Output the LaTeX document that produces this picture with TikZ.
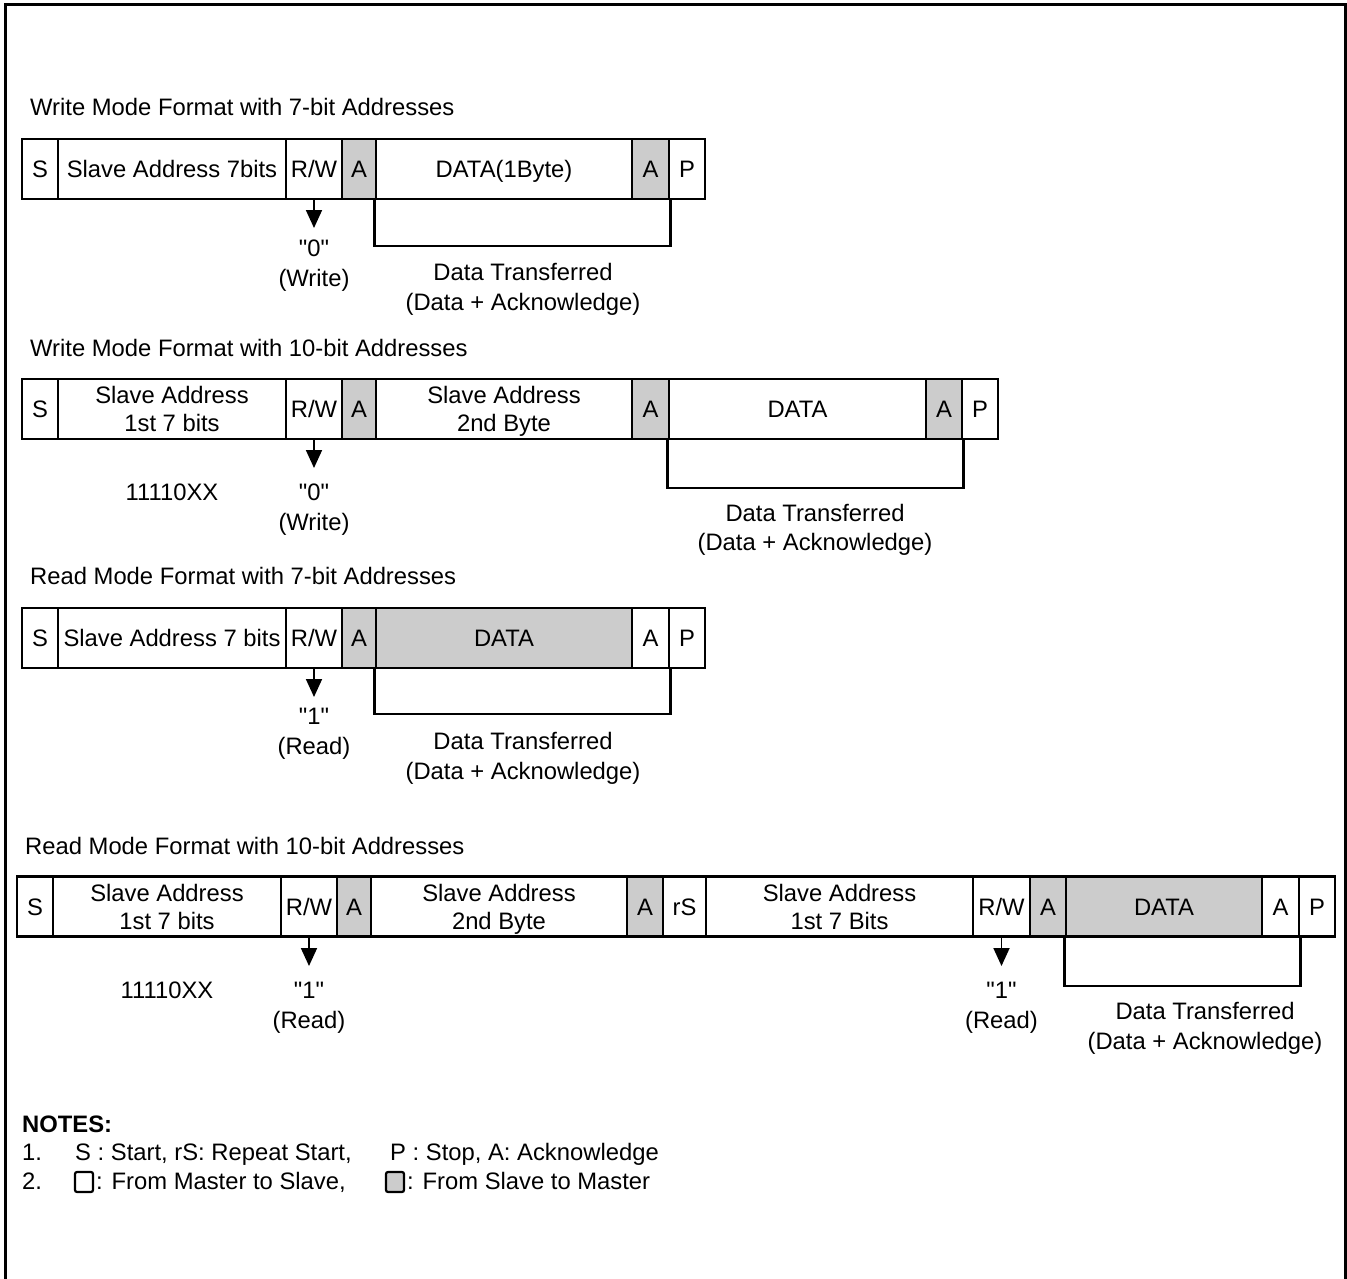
\documentclass[tikz,border=0pt]{standalone}
\usepackage{fontspec}
\setmainfont{Liberation Sans}[Ligatures=TeXOff]
\usetikzlibrary{arrows.meta}
\definecolor{cellgray}{RGB}{204,204,204}
\begin{document}
\begin{tikzpicture}[x=1pt,y=-1pt,
  every node/.style={font=\fontsize{23.8}{28}\selectfont},
  cell/.style={draw, line width=2.6pt, minimum height=60pt, inner sep=0pt, align=center, text height=17pt, text depth=0pt},
  gcell/.style={cell, fill=cellgray},
  cellii/.style={cell, text height=45pt, text depth=0pt},
  lbl/.style={inner sep=0pt, anchor=base},
  ttl/.style={inner sep=0pt, anchor=base west},
  rwarrow/.style={line width=1.8pt, -{Triangle[width=16pt,length=18pt]}},
  bracket/.style={line width=2.5pt},
  keybox/.style={draw, line width=2.2pt, minimum width=18pt, minimum height=20pt, inner sep=0pt, rounded corners=2pt},
]
\useasboundingbox (0,0) rectangle (1347,1279);
\draw[line width=3pt] (5,1279) -- (5,5) -- (1345,5) -- (1345,1279);

% ---------------- Row 1 ----------------
\node[ttl] (t1) at (30,116) {Write Mode Format with 7-bit Addresses};
\node[cell, minimum width=36pt]  (r1s)  at (40,169) {S};
\node[cell, minimum width=228pt] (r1sa) at (172,169) {Slave Address 7bits};
\node[cell, minimum width=56pt]  (r1rw) at (314,169) {R/W};
\node[gcell, minimum width=34pt] (r1a1) at (359,169) {A};
\node[cell, minimum width=256pt] (r1d)  at (504,169) {DATA(1Byte)};
\node[gcell, minimum width=37pt] (r1a2) at (650.5,169) {A};
\node[cell, minimum width=36pt]  (r1p)  at (687,169) {P};
\coordinate (r1tip) at (314,228);
\draw[rwarrow] (r1rw.south) -- (r1tip);
\node[lbl] (r1v) at (314,256) {"0"};
\node[lbl] (r1m) at (314,286) {(Write)};
\coordinate (r1bot) at (520,246);
\draw[bracket] (r1d.south west) |- (r1bot) -| (r1a2.south east);
\node[lbl] (r1dt) at (523,280) {Data Transferred};
\node[lbl] (r1da) at (523,310) {(Data + Acknowledge)};

% ---------------- Row 2 ----------------
\node[ttl] (t2) at (30,356) {Write Mode Format with 10-bit Addresses};
\node[cell, minimum width=36pt]  (r2s)  at (40,409) {S};
\node[cellii, minimum width=228pt] (r2sa) at (172,409) {Slave Address\\1st 7 bits};
\node[cell, minimum width=56pt]  (r2rw) at (314,409) {R/W};
\node[gcell, minimum width=34pt] (r2a1) at (359,409) {A};
\node[cellii, minimum width=256pt] (r2sb) at (504,409) {Slave Address\\2nd Byte};
\node[gcell, minimum width=37pt] (r2a2) at (650.5,409) {A};
\node[cell, minimum width=257pt] (r2d)  at (797.5,409) {DATA};
\node[gcell, minimum width=36pt] (r2a3) at (944,409) {A};
\node[cell, minimum width=36pt]  (r2p)  at (980,409) {P};
\coordinate (r2tip) at (314,468);
\draw[rwarrow] (r2rw.south) -- (r2tip);
\node[lbl] (r2x) at (172,500) {11110XX};
\node[lbl] (r2v) at (314,500) {"0"};
\node[lbl] (r2m) at (314,530) {(Write)};
\coordinate (r2bot) at (815,488);
\draw[bracket] (r2d.south west) |- (r2bot) -| (r2a3.south east);
\node[lbl] (r2dt) at (815,521) {Data Transferred};
\node[lbl] (r2da) at (815,550) {(Data + Acknowledge)};

% ---------------- Row 3 ----------------
\node[ttl] (t3) at (30,584) {Read Mode Format with 7-bit Addresses};
\node[cell, minimum width=36pt]  (r3s)  at (40,638) {S};
\node[cell, minimum width=228pt] (r3sa) at (172,638) {Slave Address 7 bits};
\node[cell, minimum width=56pt]  (r3rw) at (314,638) {R/W};
\node[gcell, minimum width=34pt] (r3a1) at (359,638) {A};
\node[gcell, minimum width=256pt] (r3d) at (504,638) {DATA};
\node[cell, minimum width=37pt]  (r3a2) at (650.5,638) {A};
\node[cell, minimum width=36pt]  (r3p)  at (687,638) {P};
\coordinate (r3tip) at (314,697);
\draw[rwarrow] (r3rw.south) -- (r3tip);
\node[lbl] (r3v) at (314,724) {"1"};
\node[lbl] (r3m) at (314,754) {(Read)};
\coordinate (r3bot) at (520,714);
\draw[bracket] (r3d.south west) |- (r3bot) -| (r3a2.south east);
\node[lbl] (r3dt) at (523,749) {Data Transferred};
\node[lbl] (r3da) at (523,779) {(Data + Acknowledge)};

% ---------------- Row 4 ----------------
\node[ttl] (t4) at (25,854) {Read Mode Format with 10-bit Addresses};
\node[cell, minimum width=36pt]  (r4s)   at (35,906.5) {S};
\node[cellii, minimum width=228pt] (r4sa)  at (167,906.5) {Slave Address\\1st 7 bits};
\node[cell, minimum width=56pt]  (r4rw)  at (309,906.5) {R/W};
\node[gcell, minimum width=34pt] (r4a1)  at (354,906.5) {A};
\node[cellii, minimum width=256pt] (r4sb)  at (499,906.5) {Slave Address\\2nd Byte};
\node[gcell, minimum width=36pt] (r4a2)  at (645,906.5) {A};
\node[cell, minimum width=43pt]  (r4rs)  at (684.5,906.5) {rS};
\node[cellii, minimum width=267pt] (r4sc)  at (839.5,906.5) {Slave Address\\1st 7 Bits};
\node[cell, minimum width=57pt]  (r4rw2) at (1001.5,906.5) {R/W};
\node[gcell, minimum width=36pt] (r4a3)  at (1048,906.5) {A};
\node[gcell, minimum width=196pt] (r4d)  at (1164,906.5) {DATA};
\node[cell, minimum width=37pt]  (r4a4)  at (1280.5,906.5) {A};
\node[cell, minimum width=36pt]  (r4p)   at (1317,906.5) {P};
\coordinate (r4tip) at (309,966);
\draw[rwarrow] (r4rw.south) -- (r4tip);
\node[lbl] (r4x) at (167,998) {11110XX};
\node[lbl] (r4v) at (309,998) {"1"};
\node[lbl] (r4m) at (309,1028) {(Read)};
\coordinate (r4tip2) at (1001.5,966);
\draw[rwarrow] (r4rw2.south) -- (r4tip2);
\node[lbl] (r4v2) at (1001.5,998) {"1"};
\node[lbl] (r4m2) at (1001.5,1028) {(Read)};
\coordinate (r4bot) at (1180,986);
\draw[bracket] (r4d.south west) |- (r4bot) -| (r4a4.south east);
\node[lbl] (r4dt) at (1205,1019) {Data Transferred};
\node[lbl] (r4da) at (1205,1049) {(Data + Acknowledge)};

% ---------------- Notes ----------------
\node[ttl, font=\fontsize{23.8}{28}\selectfont\bfseries] (nt) at (22,1132) {NOTES:};
\node[ttl] (n1) at (22,1160) {1.};
\node[ttl] (n1a) at (75,1160) {S : Start, rS: Repeat Start,};
\node[ttl] (n1b) at (390,1160) {P : Stop, A: Acknowledge};
\node[ttl] (n2) at (22,1189) {2.};
\node[keybox] (kw) at (84,1182) {};
\node[ttl] (n2a) at (96,1189) {: From Master to Slave,};
\node[keybox, fill=cellgray] (kg) at (395,1182) {};
\node[ttl] (n2b) at (407,1189) {: From Slave to Master};
\end{tikzpicture}
\end{document}
